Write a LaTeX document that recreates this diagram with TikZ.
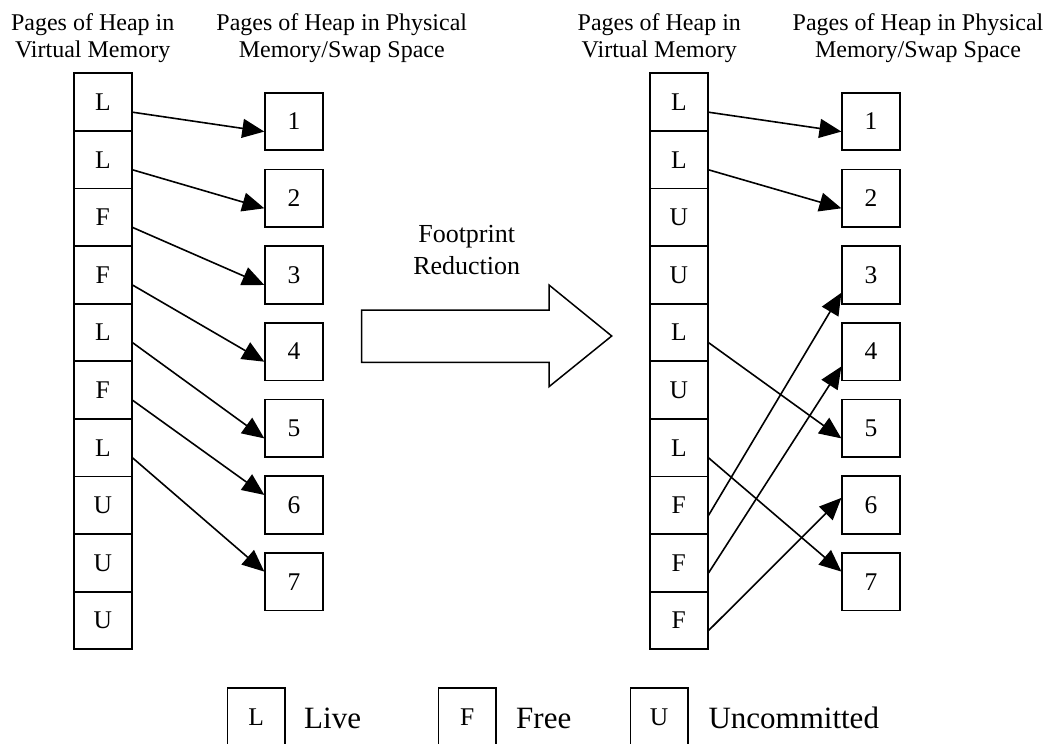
\documentclass[tikz,border=0pt]{standalone}
\usepackage{fontspec}
\setmainfont{Liberation Serif}
\usetikzlibrary{arrows.meta,calc}

\tikzset{
  page/.style={draw, line width=1.8pt, minimum size=57.6pt, inner sep=0pt, font=\fontsize{25.5}{27}\selectfont},
  title/.style={align=center, inner sep=0pt, font=\fontsize{24}{27}\selectfont},
  link/.style={-{Triangle[length=22pt,width=19pt]}, line width=1.6pt},
  legtext/.style={anchor=base west, inner sep=0pt, font=\fontsize{31}{36}\selectfont}
}

\begin{document}
\begin{tikzpicture}[x=1pt, y=-1pt]
        \useasboundingbox (0,0) rectangle (1047,744);

        % Titles
        \node[title] (lvt) at (92.7,37.9) {Pages of Heap in\\Virtual Memory};
        \node[title] (lpt) at (341.8,37.9) {Pages of Heap in Physical\\Memory/Swap Space};
        \node[title] (rvt) at (659.3,37.9) {Pages of Heap in\\Virtual Memory};
        \node[title] (rpt) at (918,37.9) {Pages of Heap in Physical\\Memory/Swap Space};

        % Before: virtual pages and physical pages
        \foreach \t [count=\i] in {L,L,F,F,L,F,L,U,U,U}
            \node[page] (lv\i) at (102.8,{44.5+57.6*\i}) {\t};
        \foreach \i in {1,...,7}
            \node[page] (lp\i) at (294,{44.8+76.7*\i}) {\i};
        \foreach \a/\f in {1/0.67,2/0.67,3/0.67,4/0.67,5/0.67,6/0.33,7/0.33}
            \draw[link] ($(lv\a.north east)!0.67!(lv\a.south east)$) -- ($(lp\a.north west)!\f!(lp\a.south west)$);

        % Big arrow
        \draw[line width=1.5pt] (361.7,310) -- (549,310) -- (549,285) -- (611.7,336)
            -- (549,386.7) -- (549,362.3) -- (361.7,362.3) -- cycle;
        \node[title, font=\fontsize{26}{31.7}\selectfont] (fpr) at (466.7,250.2) {Footprint\\Reduction};

        % After: virtual pages and physical pages
        \foreach \t [count=\i] in {L,L,U,U,L,U,L,F,F,F}
            \node[page] (rv\i) at (678.8,{44.5+57.6*\i}) {\t};
        \foreach \i in {1,...,7}
            \node[page] (rp\i) at (871.1,{44.8+76.7*\i}) {\i};
        \foreach \a/\b/\f in {1/1/0.67,2/2/0.67,5/5/0.67,7/7/0.33,8/3/0.8,9/4/0.75,10/6/0.38}
            \draw[link] ($(rv\a.north east)!0.67!(rv\a.south east)$) -- ($(rp\b.north west)!\f!(rp\b.south west)$);

        % Legend
        \node[page] (keyL) at (256.2,717.1) {L};
        \node[legtext] (keyLtxt) at (304,728.3) {Live};
        \node[page] (keyF) at (467.2,717.1) {F};
        \node[legtext] (keyFtxt) at (516,728.3) {Free};
        \node[page] (keyU) at (659.2,717.1) {U};
        \node[legtext] (keyUtxt) at (708.3,728.3) {Uncommitted};
\end{tikzpicture}
\end{document}
